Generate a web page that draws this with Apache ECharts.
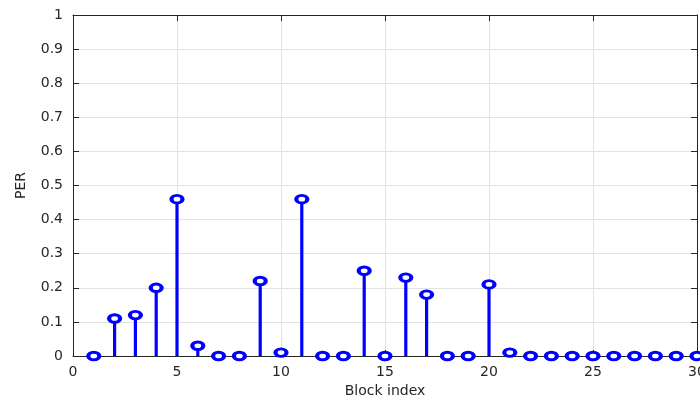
<!DOCTYPE html>
<html>
<head>
<meta charset="utf-8">
<script src="https://cdn.jsdelivr.net/npm/echarts@6/dist/echarts.min.js"></script>
<style>
  html, body { margin: 0; padding: 0; background: #fff; overflow: hidden; }
  #chart { width: 700px; height: 397px; }
</style>
</head>
<body>
<div id="chart"></div>
<script>
// Packet error rate per block
const blockIndex = [1, 2, 3, 4, 5, 6, 7, 8, 9, 10, 11, 12, 13, 14, 15,
                    16, 17, 18, 19, 20, 21, 22, 23, 24, 25, 26, 27, 28, 29, 30];
const perValues = [0, 0.11, 0.12, 0.20, 0.46, 0.03, 0, 0, 0.22, 0.01, 0.46, 0, 0, 0.25, 0,
                   0.23, 0.18, 0, 0, 0.21, 0.01, 0, 0, 0, 0, 0, 0, 0, 0, 0];
const xTicks = [0, 5, 10, 15, 20, 25, 30];
const yTicks = [0, 0.1, 0.2, 0.3, 0.4, 0.5, 0.6, 0.7, 0.8, 0.9, 1];

const points = blockIndex.map((b, i) => [b, perValues[i]]);

const FONT = 'DejaVu Sans';
const AXIS_COLOR = '#262626';
const STEM_COLOR = '#0000ff';

const chart = echarts.init(document.getElementById('chart'), null, { renderer: 'canvas' });

const boxAxis = {
  axisLine: { show: true, onZero: false, lineStyle: { color: AXIS_COLOR, width: 1 } },
  axisTick: { show: true, inside: true, length: 6, lineStyle: { color: AXIS_COLOR } },
};

chart.setOption({
  animation: false,
  backgroundColor: '#fff',
  grid: {
    left: 73, right: 3, top: 15, bottom: 41,
    containLabel: false, outerBoundsMode: 'none',
  },
  xAxis: [
    Object.assign({
      type: 'value', min: xTicks[0], max: xTicks[xTicks.length - 1], interval: 5,
      name: 'Block index', nameLocation: 'middle', nameGap: 28,
      nameTextStyle: { fontFamily: FONT, fontSize: 14, color: AXIS_COLOR },
      axisLabel: { fontFamily: FONT, fontSize: 14, color: AXIS_COLOR, margin: 9 },
      splitLine: { show: true, lineStyle: { color: '#e2e2e2', width: 1 } },
    }, boxAxis),
    Object.assign({
      type: 'value', position: 'top', min: 0, max: 30, interval: 5,
      axisLabel: { show: false }, splitLine: { show: false },
    }, boxAxis),
  ],
  yAxis: [
    Object.assign({
      type: 'value', min: yTicks[0], max: yTicks[yTicks.length - 1], interval: 0.1,
      name: 'PER', nameLocation: 'middle', nameGap: 45, nameRotate: 90,
      nameTextStyle: { fontFamily: FONT, fontSize: 14, color: AXIS_COLOR },
      axisLabel: {
        fontFamily: FONT, fontSize: 14, color: AXIS_COLOR, margin: 10,
        formatter: v => String(Math.round(v * 10) / 10),
      },
      splitLine: { show: true, lineStyle: { color: '#e2e2e2', width: 1 } },
    }, boxAxis),
    Object.assign({
      type: 'value', position: 'right', min: 0, max: 1, interval: 0.1,
      axisLabel: { show: false }, splitLine: { show: false },
    }, boxAxis),
  ],
  series: [
    {
      // vertical stems from the baseline to each value
      type: 'custom',
      xAxisIndex: 0, yAxisIndex: 0,
      clip: false,
      data: points,
      renderItem: (params, api) => {
        const base = api.coord([api.value(0), 0]);
        const top = api.coord([api.value(0), api.value(1)]);
        return {
          type: 'line',
          shape: { x1: base[0], y1: base[1], x2: top[0], y2: top[1] },
          style: { stroke: STEM_COLOR, lineWidth: 3.2 },
        };
      },
      z: 2,
    },
    {
      // open circle at the tip of each stem
      type: 'scatter',
      xAxisIndex: 0, yAxisIndex: 0,
      clip: false,
      data: points,
      symbol: 'circle',
      symbolSize: [11, 7.5],
      itemStyle: { color: '#ffffff', borderColor: STEM_COLOR, borderWidth: 3.5, opacity: 1 },
      z: 3,
    },
  ],
});
</script>
</body>
</html>
